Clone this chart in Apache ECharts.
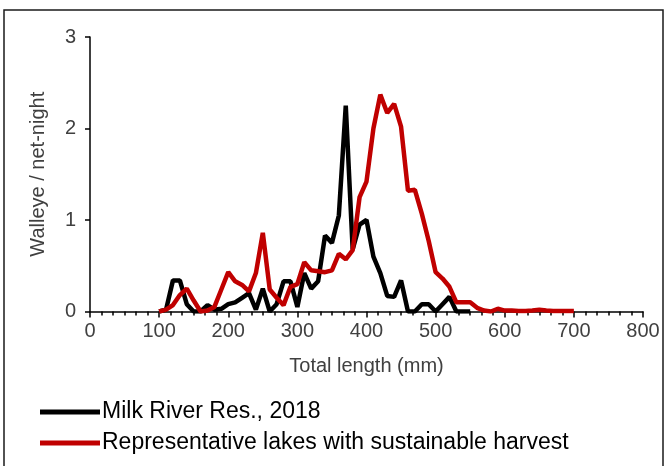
<!DOCTYPE html>
<html>
<head>
<meta charset="utf-8">
<script src="https://cdn.jsdelivr.net/npm/echarts@6/dist/echarts.min.js"></script>
<style>html,body{margin:0;padding:0;background:#fff}#c{width:672px;height:466px}</style>
</head>
<body>
<div id="c"></div>
<script>
var milkLengths = [100,110,120,130,140,150,160,170,180,190,200,210,220,230,240,250,260,270,280,290,300,310,320,330,340,350,360,370,380,390,400,410,420,430,440,450,460,470,480,490,500,510,520,530,540,550];
var milkValues  = [0,0.02,0.34,0.34,0.08,0,0,0.07,0.02,0.03,0.08,0.1,0.15,0.2,0.02,0.25,0,0.08,0.33,0.33,0.05,0.42,0.25,0.33,0.83,0.75,1.05,2.25,0.68,0.95,1.0,0.6,0.42,0.17,0.16,0.34,0,0,0.08,0.08,0,0.08,0.16,0,0,0];
var repLengths = [100,110,120,130,140,150,160,170,180,190,200,210,220,230,240,250,260,270,280,290,300,310,320,330,340,350,360,370,380,390,400,410,420,430,440,450,460,470,480,490,500,510,520,530,540,550,560,570,580,590,600,610,620,630,640,650,660,670,680,690,700];
var repValues  = [0,0.02,0.07,0.18,0.25,0.12,0,0.01,0.05,0.24,0.43,0.33,0.29,0.22,0.42,0.86,0.24,0.15,0.07,0.27,0.3,0.54,0.45,0.44,0.43,0.45,0.63,0.57,0.67,1.25,1.42,2.0,2.37,2.17,2.27,2.02,1.32,1.33,1.07,0.77,0.43,0.36,0.27,0.1,0.1,0.1,0.04,0.01,0,0.03,0.01,0.01,0.005,0.005,0.01,0.02,0.01,0.005,0.005,0.005,0.005];
var seriesNames = ['Milk River Res., 2018', 'Representative lakes with sustainable harvest'];
var xTitle = 'Total length (mm)';
var yTitle = 'Walleye / net-night';

function pairs(xs, ys){ return xs.map(function(x,i){ return [x, ys[i]]; }); }

var chart = echarts.init(document.getElementById('c'), null, {renderer:'canvas'});
var font = 'Liberation Sans, Arial, sans-serif';
chart.setOption({
  animation: false,
  backgroundColor: '#fff',
  grid: {left: 90, right: 29, top: 37, bottom: 154.5, containLabel: false},
  graphic: [{
    type: 'rect', shape: {x: 4, y: 10, width: 659, height: 470},
    style: {fill: 'none', stroke: '#1a1a1a', lineWidth: 1.5}, silent: true, z: -1
  }],
  legend: {
    orient: 'vertical', left: 35, top: 395, itemWidth: 60, itemHeight: 5, itemGap: 7,
    icon: 'rect',
    textStyle: {fontFamily: font, fontSize: 23, color: '#000', lineHeight: 24, padding: [0,0,0,-3]},
    data: seriesNames
  },
  xAxis: {
    type: 'value', min: 0, max: 800, interval: 100,
    name: xTitle, nameLocation: 'middle', nameGap: 45,
    nameTextStyle: {fontFamily: font, fontSize: 20, color: '#404040'},
    axisLine: {show: true, lineStyle: {color: '#000', width: 1.5}},
    axisTick: {show: true, length: 6, lineStyle: {color: '#000', width: 1.5}},
    minorTick: {show: true, splitNumber: 6, length: 4, lineStyle: {color: '#000', width: 1.5}},
    splitLine: {show: false},
    axisLabel: {fontFamily: font, fontSize: 20, color: '#404040', margin: 10}
  },
  yAxis: {
    type: 'value', min: 0, max: 3, interval: 1,
    name: yTitle, nameLocation: 'middle', nameGap: 42, nameRotate: 90,
    nameTextStyle: {fontFamily: font, fontSize: 20, color: '#404040'},
    axisLine: {show: true, lineStyle: {color: '#000', width: 1.5}},
    axisTick: {show: true, length: 5, lineStyle: {color: '#000', width: 1.5}},
    splitLine: {show: false},
    axisLabel: {fontFamily: font, fontSize: 20, color: '#404040', margin: 14}
  },
  series: [
    {name: seriesNames[0], type: 'line', data: pairs(milkLengths, milkValues), symbol: 'none',
     color: '#000', lineStyle: {color: '#000', width: 4.5}},
    {name: seriesNames[1], type: 'line', data: pairs(repLengths, repValues), symbol: 'none',
     color: '#c00000', lineStyle: {color: '#c00000', width: 4.5}}
  ]
});
</script>
</body>
</html>
